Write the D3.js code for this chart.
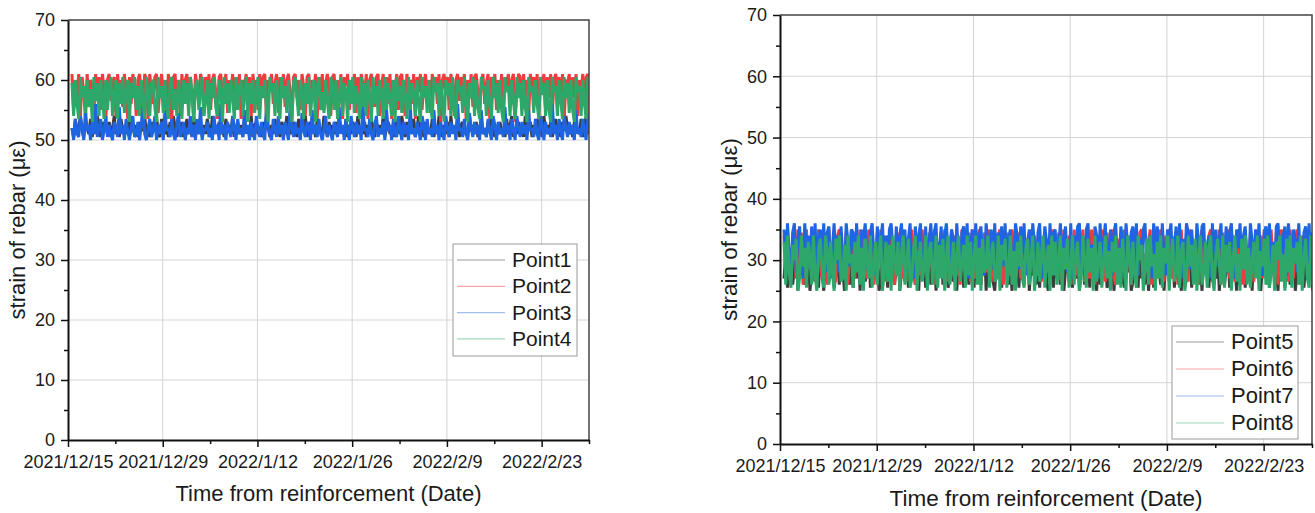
<!DOCTYPE html>
<html>
<head>
<meta charset="UTF-8">
<title></title>
<script src="https://cdn.jsdelivr.net/npm/d3@7"></script>
<style>
body{margin:0;background:#fff;}
text{font-family:"Liberation Sans",Arial,sans-serif;fill:#1a1a1a;}
</style>
</head>
<body>
<div id="chart"></div>
<script>
// 1. data (one reading every 6 hours from the first one)
var startTime = new Date(2021, 11, 15, 14);
var stepHours = 6;
var endTime = new Date(2022, 2, 2);
var yTicks = [0, 10, 20, 30, 40, 50, 60, 70];
var yMinorTicks = [5, 15, 25, 35, 45, 55, 65];
var tickLabels = ["2021/12/15", "2021/12/29", "2022/1/12", "2022/1/26", "2022/2/9", "2022/2/23"];
var leftNames = ["Point1", "Point2", "Point3", "Point4"];
var rightNames = ["Point5", "Point6", "Point7", "Point8"];

var point1 = [52,50.5,53.5,51,52,54,51.5,50.5,53,52,51,53.5,50.5,52.5,51,54,52,50.5,53,51.5,52.5,51,
53,50.5,52,54,51,52.5,50.5,53.5,51.5,52,51,53,50.5,54,52,51,52.5,50.5,53,51.5,52,54,
51,52.5,50.5,53,51.5,52,54,51,50.5,53.5,52,51,52.5,50.5,53,51,54,52,50.5,52.5,51.5,53,
50.5,52,53.5,51,52.5,50.5,54,51.5,52,51,53,50.5,52.5,51,53.5,52,50.5,54,51,52.5,51.5,53,
51,52,50.5,53.5,51.5,52.5,51,54,50.5,52,53,51,52.5,50.5,53.5,51.5,52,51,54,50.5,52.5,53,
51,52,50.5,53,51.5,54,52,50.5,52.5,51,53.5,51.5,52,50.5,53,52,51,54,50.5,52.5,51,53,
52,50.5,53.5,51,52.5,51.5,54,50.5,52,53,51,52.5,50.5,53.5,51.5,52,51,54,52,50.5,53,51.5,
52.5,51,53,50.5,54,51.5,52,51,53.5,50.5,52.5,51,53,52,50.5,54,51.5,52,51,53,50.5,52.5,
51,53.5,52,50.5,53,51.5,52.5,51,54,50.5,52,53,51,52.5,50.5,53.5,51.5,52,51,54,52,50.5,
53,51.5,52.5,51,53.5,50.5,52,54,51,52.5,50.5,53,51.5,52,51,53.5,50.5,52.5,51,54,52,50.5,
52.5,51,53,50.5,54,51.5,52,51,53.5,50.5,52.5,53,51,52,50.5,54,51.5,52.5,51,53,50.5,52,
53.5,51,52,50.5,53,51.5,54,52,50.5,52.5,51,53,51.5,52,50.5,53.5,51,52.5,54,50.5,52,51,
53,51.5,52.5,50.5,54,51,52,53,50.5,52.5,51.5,53.5,51,52,50.5,54,51.5,52.5,51,53,50.5,52,
53.5,51,52.5,50.5,53,51.5,54,52,51,52.5,50.5,53,51.5,52,51,53.5,50.5,52.5,54,51,52,50.5,
53,51.5,52.5,51,54,50.5,52,53,51,52.5,50.5,53.5];
var point2 = [61,55,60,57,61,54,60.5,58,53.5,61,56,60,59,54.5,61,57,60.5,55,61,58.5,53,60,
61,56.5,59.5,60.5,54,61,57,60,55.5,61,58,53.5,60.5,56,61,59,54,60,61,57.5,55,61,
60,53.5,61,58,56,60.5,61,54.5,59,61,57,60,55,61,58.5,53,60.5,61,56,59.5,54,61,
57,60,61,55.5,60.5,58,53.5,61,59,56,61,60,54,60.5,57.5,61,55,60,61,58,53.5,60.5,
61,56,59.5,61,54.5,60,58,61,55,60.5,57,61,53.5,60,59,61,56.5,60.5,54,61,58,60,
55,61,57,60.5,61,53.5,60,58.5,61,56,59.5,61,54.5,60.5,57,61,55.5,60,61,58,53,60.5,
61,57,60,55,61,59,54,60.5,61,56.5,60,58,61,53.5,60.5,57,61,55,59.5,61,58,54,
60.5,61,56,60,57.5,61,53.5,60.5,59,61,55,60,58,61,54.5,60.5,56,61,59.5,57,61,53.5,
60,61,58,55.5,60.5,61,54,59,61,57,60.5,56,61,53.5,60,58.5,61,55,60.5,61,57,54,
61,59,60,56,61,53.5,60.5,58,61,55,59.5,61,57,60,54.5,61,58,60.5,56,61,53,60,
61,57.5,60.5,55,61,59,54,60,61,56.5,60.5,58,61,53.5,60,57,61,55.5,60.5,61,58,54,
60,61,56,59.5,61,53.5,60.5,58,61,55,60,57,61,54,60.5,59,61,56.5,60,61,53,58,
61,60.5,55,61,57.5,60,54,61,58.5,60.5,56,61,53.5,60,59,61,55,60.5,57,61,54.5,60,
61,58,60.5,56,61,53,60,59.5,61,55.5,60.5,57,61,54,60,58,61,56,60.5,61,53.5,59,
61,57,60.5,55,61,58,60,54,61,56.5,60.5,61];
var point3 = [52,50,53.5,51,50.5,54,52,50,55,51.5,52.5,50,53,51,56,50.5,52,53.5,50,51.5,54,50.5,
52.5,51,50,53,52,50.5,55.5,51,52.5,50,53.5,51.5,50,52,54,50.5,51,53,50,52.5,56.5,51,
50,52,53.5,50.5,51.5,54,50,52.5,51,53,50,55,51.5,52,50.5,53.5,51,50,52.5,54.5,50.5,51.5,
53,50,52,51,54,50.5,52.5,50,53.5,51,55.5,50,52,51.5,53,50.5,52,50,54,51,52.5,50,
56,51,52.5,50,53,51.5,50.5,54,52,50,53.5,51,52,50.5,55,51,52.5,50,53,51.5,50,54,
52,50.5,53,51,50,55.5,52.5,51,50,53.5,52,50.5,54,51,52.5,50,53,51.5,50,56,52,50.5,
53,51,52,50,54.5,51.5,50.5,53,52,50,55,51,52.5,50.5,53.5,51,50,52,54,50.5,52.5,51,
50,53,52,50.5,55.5,51,52.5,50,53.5,51.5,50,54,52,50.5,53,51,52.5,50,56,51.5,52,50.5,
53.5,51,50,52.5,54,50.5,52,51,53,50,55,51.5,52.5,50,53.5,51,50.5,54,52,50,53,51,
52.5,50,55.5,51,52,50.5,53,51.5,50,54,52.5,50,53.5,51,52,50.5,55,51,52.5,50,53,51.5,
50,54,52,50.5,53,51,52.5,50,56,51.5,52,50.5,53.5,51,50,54.5,52,50.5,53,51,52.5,50,
55,51,52,50.5,53.5,51.5,50,54,52.5,50,53,51,52,50.5,55.5,51,52.5,50,53.5,51.5,50,54,
52,50.5,53,51,52.5,50,55,51.5,52,50.5,53.5,51,50,54,52.5,50,53,51,52,50.5,56,51,
52.5,50,53.5,51.5,50,54,52,50.5,53,51,52.5,50,55,51,52,50.5,53.5,51.5,50,54.5,52,50.5,
53,51,52.5,50,55,51.5,52,50.5,53.5,51,50,54];
var point4 = [59.5,54,60,56,53.5,60.5,57,59,54.5,60,55.5,58.5,53,60.5,56.5,59.5,54,60,57.5,53.5,60,55,
59,60.5,54,57,60,53.5,59.5,56,60.5,54.5,58,60,53,59.5,57,60.5,55,59,54,60,56.5,53.5,
60.5,58,54,59.5,60,55.5,53,60.5,57,59,54.5,60,56,53.5,59.5,60.5,55,58.5,54,60,57,53.5,
60,56,59.5,54,60.5,57.5,53,59,60,55,58,60.5,54,56.5,60,53.5,59.5,57,60.5,55.5,54,60,
58.5,53,60.5,56,59.5,54.5,60,57,53.5,60.5,55,59,60,54,57.5,60.5,53,59.5,56,60,54.5,58,
60.5,53.5,59,57,60,55,53,60.5,58,59.5,54,60,56.5,53.5,60.5,57,59,54.5,60,55.5,53,59.5,
60.5,57,54,60,58.5,53.5,59.5,56,60.5,54,57.5,60,53,59,60.5,55,58,54.5,60,56.5,53.5,60.5,
59,55,60,53.5,57,60.5,54,59.5,58,53,60,56,60.5,54.5,59,57,53.5,60.5,55.5,59.5,54,60,
57.5,53,60.5,56,59,54,60,58,53.5,60.5,55,59.5,57,54,60,53,60.5,56.5,59,54.5,60,57,
53.5,60.5,55,59.5,58,54,60,56,53,60.5,57,59,54.5,60,55.5,53.5,60.5,58,59.5,54,60,56.5,
53,60,57.5,59.5,54,60.5,55,53.5,60,58,59,54.5,60.5,56,53,59.5,57,60.5,54,60,55.5,53.5,
60.5,58.5,59,54,60,56,53.5,60.5,57,59.5,54.5,60,55,53,60.5,58,59,54,60,56.5,53.5,60.5,
57,59.5,54,60,55.5,53,60.5,58,59,54.5,60,56,53.5,60.5,57.5,59.5,54,60,55,53,60.5,58,
59,54,60,56.5,53.5,60.5,57,59.5,54.5,60,55,53,60.5,58,59,54,60,56,53.5,60.5,57.5,59,
54,60,55.5,53,60.5,58,59.5,54.5,60,56,53.5,60.5];

var point5 = [27,31,25.5,29,32,26,28.5,33,25,30,27.5,32.5,26,29.5,31.5,25,28,33,26.5,30.5,25.5,32,
28,25,31,33,26.5,29,32,25.5,27.5,31.5,26,33,28.5,25,30,32.5,26,29.5,25.5,31,27,33,
25,30.5,32,26.5,28,33,25.5,31,27,29.5,32.5,25,26.5,31.5,28.5,33,25.5,30,27.5,32,26,29,
33,25,28,31.5,26.5,32.5,25.5,29,27,33,26,30.5,25,32,28.5,31,25.5,27.5,33,26,29.5,32,
25,31,27.5,33,26,29,32.5,25.5,28,31.5,26.5,33,25,30,27,32,25.5,29.5,31,26,28.5,33,
25.5,30.5,27,32.5,26,29,33,25,31,28,32,26.5,25,30,33,27.5,25.5,31.5,28.5,32.5,26,29,
25,33,27,30.5,25.5,32,28,26,31.5,33,25,29,27.5,32.5,26,30,25.5,33,28.5,31,26.5,25,
32,29,25.5,33,27,30.5,26,32.5,25,28.5,31,26.5,33,25.5,29.5,27,32,25,30,33,26,28,
31.5,25.5,32.5,27.5,29,25,33,26,30.5,28,32,25.5,26.5,31,33,25,29.5,27,32.5,26,30,25.5,
33,28,31,25,26.5,32,29,25.5,33,27,30.5,26,32.5,25,28.5,31.5,25.5,33,27.5,29.5,26,32,
25,30,33,26.5,28,31.5,25.5,32.5,27,29,25,33,26,30.5,28.5,32,25.5,31,27.5,33,26,29.5,
25,32.5,28,30,25.5,33,26.5,31,27,32,25,29.5,33,26,28.5,31.5,25.5,32.5,27,30,25,33,
26,29,32,25.5,30.5,27.5,33,25,31,28,32.5,26.5,25,29.5,33,27,31.5,25.5,30,32,26,28.5,
25,33,27,31,25.5,32.5,29,26,30,33,25,28,31.5,26.5,32,25.5,29.5,33,27.5,30.5,25,32,
26,29,33,25.5,31,27,32.5,25,30,28.5,33,26];
var point6 = [34,28,35,30,26.5,33.5,31,27,35,29,34.5,26,32,35,28.5,30.5,34,27,26.5,33,35,29.5,
27,34.5,31,26,35,28,33,30,26.5,34,35,27.5,32,29,34.5,26,31.5,35,28,27,33.5,30,
35,26.5,34,29,27,35,31,33.5,26,28.5,34.5,30,35,27,32.5,26.5,34,29.5,35,28,26,33,
31,34.5,27,35,29,26.5,33.5,30.5,35,28,26,34,32,27.5,35,29,33,26.5,34.5,31,28,35,
26,33,30,34.5,27,35,28.5,26.5,32,35,29,34,27.5,31,26,35,33.5,28,30,34.5,26.5,35,
29,27,33,35,26,31.5,34.5,28,30,35,26.5,33,29.5,27,34,35,28.5,26,32,34.5,30,27.5,
35,33,26.5,29,34.5,27,35,31,28,33.5,26,35,30,34,27.5,29,35,26.5,32.5,34,28,31,
26,35,33,28.5,30,34.5,27,26.5,35,32,29,34,26,31,35,27.5,33.5,28,30.5,35,26.5,34,
29,27,35,31.5,26,34,33,28,35,30,26.5,34.5,29,32,35,27,26,33.5,31,34.5,28.5,35,
27,30,34,26,35,29.5,32,27.5,34.5,35,26.5,31,28,33,35,26,30.5,34,29,27,35,32.5,
26.5,34,28,35,30,27,33.5,34.5,26,31.5,35,29,28,34,26.5,35,32,27.5,30,34.5,26,33,
35,28.5,31,26.5,34,35,29,27,33,30.5,35,26,34.5,28,32,35,27,29.5,34,26.5,31,35,
28,33.5,26,35,30,27.5,34.5,32,26.5,35,29,31,34,27,35,28.5,26,33,35,30,27,34.5,
26,32,35,28,29.5,34,26.5,35,31,27,33.5,35,28.5,26,34,30,35,27.5,32.5,34.5,26,29,
35,27,33,30.5,34.5,26.5,35,28,31.5,34,26,35];
var point7 = [35,29,36,31,27.5,34.5,36,28,33,35.5,30,27,36,32,34,28.5,35.5,29,36,27.5,33.5,35,
30,36,28,34.5,35.5,27,32,36,29.5,34,28,35.5,31,27.5,36,33,29,35,34.5,28,36,30.5,
27,35,33.5,36,29,28,34.5,36,31,27.5,35.5,30,33,36,28.5,34,27,35,36,32,29,35.5,
27.5,34,36,30,35,28,33.5,36,29,27,35.5,31.5,34,36,28,30,35.5,27.5,33,36,29.5,34.5,
36,28,32,35.5,27,34,36,30.5,29,35,33.5,27.5,36,31,28,34.5,35.5,29,36,27,32.5,35,
29.5,36,28,34,35.5,30,27.5,36,33,31,35,28.5,36,27,34.5,32,35.5,29,36,28,33.5,35,
30,27,36,34,28.5,35.5,31,36,27.5,33,35,29,36,32.5,28,34.5,36,27,30.5,35.5,33,29,
36,28,34.5,35,27.5,32,36,30,33.5,35.5,28,29,36,27,34,31,35.5,36,28.5,33,27.5,35,
36,30,32.5,28,35.5,34,27,36,29.5,33,36,28,31,35,27.5,34.5,36,30,28.5,35.5,33,27,
36,32,29,34.5,35.5,28,36,27.5,33.5,30,35,36,28.5,31.5,34,27,36,29,35.5,33,28,36,
30.5,27.5,35,34,36,29,32,35.5,28,36,27,33.5,30,36,34.5,28.5,35,31,27.5,36,33,29,
35.5,36,28,32.5,34,27,36,30,35,29,33.5,36,27.5,31,35.5,28,34.5,36,29.5,27,35,32,
36,28.5,34,35.5,30,27,36,33,29,35,31.5,36,28,27.5,34.5,35.5,30,36,29,33,27,35.5,
36,31,28,34,35.5,27.5,36,32.5,29,35,33,28,36,30,27,34.5,35.5,29.5,36,28.5,33,35,
27,36,31,34,35.5,28,36,29.5,33,35,27.5,36];
var point8 = [33,26,34,28,25.5,32.5,30,33.5,25,27,34,29,32,25.5,33,31,26,34,27.5,25,32,33.5,
29,25.5,34,31.5,26,33,28,25,33.5,30,34,26.5,27,32.5,25,34,29.5,31,25.5,33,28,34,
26,32,25,33.5,30.5,27,34,25.5,29,33,26,31.5,34,25,28,33,26.5,32.5,25,34,30,27.5,
33,25,31,34,26,29.5,33.5,25.5,27,32,34,25,30,33,26.5,28.5,34,25,31.5,33,26,29,
34,25.5,32.5,27,33.5,25,30,34,26,28,33,25,31,34,26.5,29.5,32.5,25.5,34,27.5,33,25,
30.5,34,26,32,25,33.5,28,29,34,25.5,31,33,26.5,27,34,25,32.5,30,33.5,25.5,28.5,34,
26,31.5,25,33,29,34,27,25.5,32,33.5,26,30,34,25,28,33,26.5,31,34,25.5,29.5,32.5,
25,34,27.5,33,26,30.5,34,25,32,28.5,33.5,25.5,29,34,26,31,33,25,27,34,30,25.5,
33.5,28,32,25,34,26.5,30,33,25.5,29.5,34,27,31.5,25,33,28,34,26,32,25.5,33.5,29,
25,34,31,26,33,27.5,25.5,34,30,32.5,25,28.5,33.5,26,34,29,31,25,33,27,34,25.5,
32,29.5,34,25,30,33.5,26.5,28,34,25.5,31.5,33,25,27,34,29,32.5,26,33.5,25,30.5,34,
26,28,33,25.5,32,34,27,25,31,33.5,29,26,34,25.5,32.5,28,33,25,30,34,26.5,31,
25,33.5,28.5,34,26,32,25.5,30,33,27,34,25,31.5,29,33.5,26,34,25.5,28,32.5,25,33,
30,34,26.5,31,25,33.5,28,34,25.5,32,29.5,33,26,34,25,30.5,33.5,27,25.5,34,31,28,
33,25,34,29,32.5,26,33.5,25.5,30,34,27,25];

var lineColors = ["#3c3c3c", "#f03c3c", "#1f64e0", "#2ea86a"];
var legendColors = ["#9a9a9a", "#f7a3a3", "#9dbdf3", "#9fd8b8"];

// 2. svg
var svg = d3.select("#chart").append("svg")
  .attr("width", 1315).attr("height", 513);

var parseTick = function (s) {
  var p = s.split("/");
  return new Date(+p[0], +p[1] - 1, +p[2]);
};
var majorDates = tickLabels.map(parseTick);
var minorDates = majorDates.map(function (d) { return d3.timeDay.offset(d, 7); });
var fmt = function (d) { return d.getFullYear() + "/" + (d.getMonth() + 1) + "/" + d.getDate(); };

function drawPanel(p) {
  var x = d3.scaleTime().domain([new Date(2021, 11, 15), endTime]).range([p.left, p.right]);
  var y = d3.scaleLinear().domain([0, 70]).range([p.bottom, p.top]);
  var g = svg.append("g");

  // grid
  g.selectAll(".gx").data(majorDates.slice(1)).enter().append("line")
    .attr("x1", function (d) { return x(d); }).attr("x2", function (d) { return x(d); })
    .attr("y1", p.top).attr("y2", p.bottom)
    .attr("stroke", "#d4d4d4").attr("stroke-width", 1);
  g.selectAll(".gy").data(yTicks.slice(1, -1)).enter().append("line")
    .attr("x1", p.left).attr("x2", p.right)
    .attr("y1", function (d) { return y(d); }).attr("y2", function (d) { return y(d); })
    .attr("stroke", "#d4d4d4").attr("stroke-width", 1);

  // lines
  var clipId = "clip" + p.left;
  svg.append("clipPath").attr("id", clipId).append("rect")
    .attr("x", p.left).attr("y", p.top).attr("width", p.right - p.left).attr("height", p.bottom - p.top);
  var line = d3.line()
    .x(function (d, i) { return x(d3.timeHour.offset(startTime, i * stepHours)); })
    .y(function (d) { return y(d); });
  var lg = g.append("g").attr("clip-path", "url(#" + clipId + ")");
  p.series.forEach(function (s, k) {
    lg.append("path").attr("d", line(s))
      .attr("fill", "none").attr("stroke", lineColors[k])
      .attr("stroke-width", 3).attr("stroke-linejoin", "bevel");
  });

  // frame (top, right)
  g.append("path")
    .attr("d", "M" + p.left + "," + p.top + "H" + p.right + "V" + p.bottom)
    .attr("fill", "none").attr("stroke", "#444").attr("stroke-width", 1.5);

  // y axis
  var ya = g.append("g").attr("transform", "translate(" + p.left + ",0)")
    .call(d3.axisLeft(y).tickValues(yTicks).tickSize(7).tickSizeOuter(0).tickPadding(6));
  g.append("g").attr("transform", "translate(" + p.left + ",0)")
    .call(d3.axisLeft(y).tickValues(yMinorTicks).tickSize(4).tickFormat(""))
    .select(".domain").remove();
  ya.selectAll("text").style("font-size", p.tickFont + "px").attr("fill", "#1a1a1a");

  // x axis
  var xa = g.append("g").attr("transform", "translate(0," + p.bottom + ")")
    .call(d3.axisBottom(x).tickValues(majorDates).tickFormat(fmt).tickSize(7).tickSizeOuter(0).tickPadding(8));
  g.append("g").attr("transform", "translate(0," + p.bottom + ")")
    .call(d3.axisBottom(x).tickValues(minorDates).tickSize(4).tickFormat(""))
    .select(".domain").remove();
  xa.selectAll("text").style("font-size", p.tickFont + "px").attr("fill", "#1a1a1a");

  g.selectAll(".domain").attr("stroke", "#111").attr("stroke-width", 2);
  g.selectAll(".tick line").attr("stroke", "#111").attr("stroke-width", 1.5);

  // axis titles
  g.append("text")
    .attr("x", (p.left + p.right) / 2).attr("y", p.titleY)
    .attr("text-anchor", "middle").style("font-size", p.titleFont + "px")
    .text("Time from reinforcement (Date)");
  g.append("text")
    .attr("transform", "translate(" + p.ytitleX + "," + ((p.top + p.bottom) / 2) + ") rotate(-90)")
    .attr("text-anchor", "middle").style("font-size", p.titleFont + "px")
    .text("strain of rebar (με)");

  // legend
  var L = p.legend;
  g.append("rect").attr("x", L.x).attr("y", L.y).attr("width", L.w).attr("height", L.h)
    .attr("fill", "#fff").attr("stroke", "#9a9a9a").attr("stroke-width", 1);
  p.names.forEach(function (name, k) {
    var cy = L.y + L.first + k * L.row;
    g.append("line").attr("x1", L.x + 4).attr("x2", L.x + 52)
      .attr("y1", cy).attr("y2", cy)
      .attr("stroke", legendColors[k]).attr("stroke-width", 1.2);
    g.append("text").attr("x", L.x + 59).attr("y", cy + 7)
      .style("font-size", L.font + "px").text(name);
  });
}

drawPanel({
  left: 68, right: 589, top: 20, bottom: 440,
  series: [point1, point2, point3, point4], names: leftNames,
  tickFont: 18, titleFont: 22, titleY: 501, ytitleX: 25,
  legend: { x: 453, y: 244, w: 124, h: 112, first: 16, row: 26.3, font: 21 }
});
drawPanel({
  left: 780, right: 1312, top: 15, bottom: 444,
  series: [point5, point6, point7, point8], names: rightNames,
  tickFont: 18, titleFont: 22.5, titleY: 506, ytitleX: 737,
  legend: { x: 1172, y: 326, w: 126, h: 113, first: 16, row: 27, font: 22 }
});
</script>
</body>
</html>
